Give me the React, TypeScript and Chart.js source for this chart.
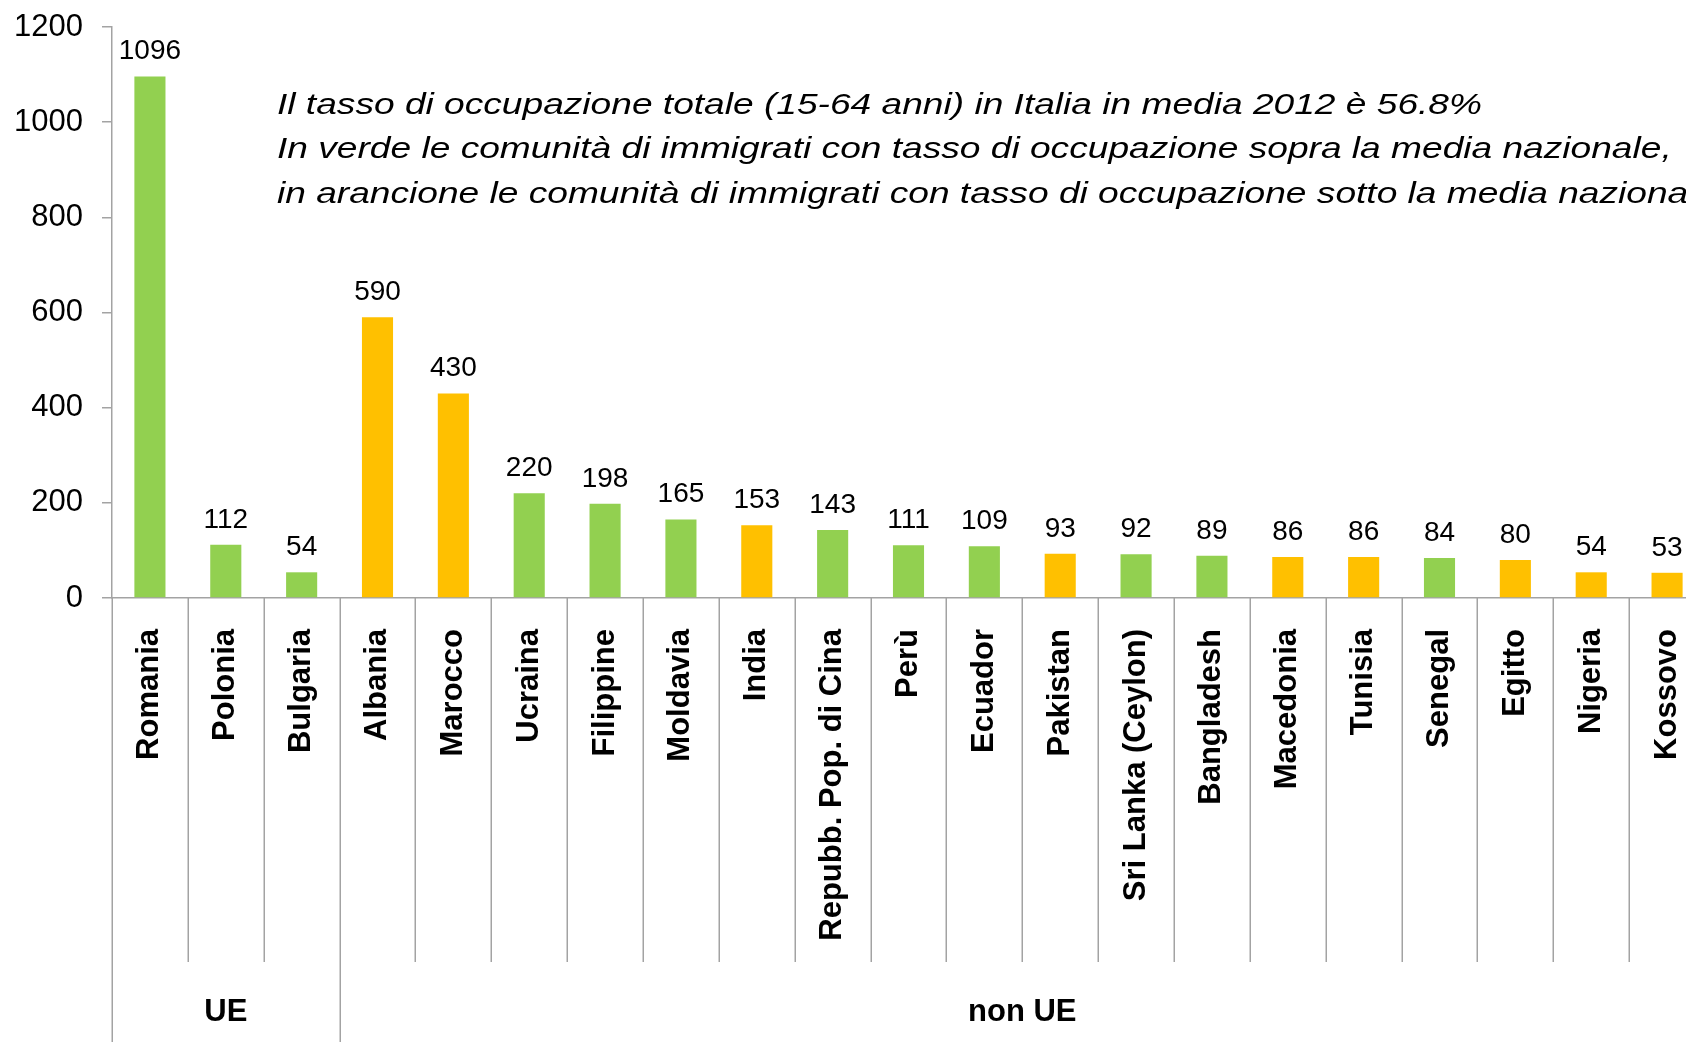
import React, { useEffect, useRef } from "react";
import { Chart, registerables } from "chart.js";

Chart.register(...registerables);

const categories = [
  "Romania",
  "Polonia",
  "Bulgaria",
  "Albania",
  "Marocco",
  "Ucraina",
  "Filippine",
  "Moldavia",
  "India",
  "Repubb. Pop. di Cina",
  "Perù",
  "Ecuador",
  "Pakistan",
  "Sri Lanka (Ceylon)",
  "Bangladesh",
  "Macedonia",
  "Tunisia",
  "Senegal",
  "Egitto",
  "Nigeria",
  "Kossovo",
];

const values = [1096, 112, 54, 590, 430, 220, 198, 165, 153, 143, 111, 109, 93, 92, 89, 86, 86, 84, 80, 54, 53];

// true = tasso di occupazione sopra la media nazionale (verde), false = sotto (arancione)
const aboveAverage = [
  true, true, true, false, false, true, true, true, false, true, true, true,
  false, true, true, false, false, true, false, false, false,
];

const groups = ["UE", "non UE"];
const groupSizes = [3, 18];

const yMin = 0;
const yMax = 1200;
const yStep = 200;

const noteLines = [
  "Il tasso di occupazione totale (15-64 anni) in Italia in media 2012 è 56.8%",
  "In verde le comunità di immigrati con tasso di occupazione sopra la media nazionale,",
  "in arancione le comunità di immigrati con tasso di occupazione sotto la media nazionale",
];

const GREEN = "#92D050";
const ORANGE = "#FFC000";
const GRAY = "#A3A3A3";
const FONT = "'Liberation Sans', Arial, sans-serif";

const CANVAS_W = 1720;
const CANVAS_H = 1042;

export default function App() {
  const ref = useRef<HTMLCanvasElement | null>(null);

  useEffect(() => {
    const canvas = ref.current;
    if (!canvas) return;

    const overlay = {
      id: "overlay",
      afterDatasetsDraw(chart: any) {
        const ctx = chart.ctx;
        const meta = chart.getDatasetMeta(0);
        ctx.save();
        ctx.fillStyle = "#000";
        ctx.font = `28px ${FONT}`;
        ctx.textAlign = "center";
        ctx.textBaseline = "alphabetic";
        meta.data.forEach((bar: any, i: number) => {
          ctx.fillText(String(values[i]), bar.x, bar.y - 17);
        });
        ctx.restore();
      },
      afterDraw(chart: any) {
        const ctx = chart.ctx;
        const xs = chart.scales.x;
        const area = chart.chartArea;
        const n = categories.length;
        const w = xs.getPixelForValue(1) - xs.getPixelForValue(0);
        const x0 = xs.getPixelForValue(0) - w / 2;

        // group boundaries
        const starts = new Set<number>();
        let acc = 0;
        starts.add(0);
        groupSizes.forEach((s) => {
          acc += s;
          starts.add(acc);
        });

        ctx.save();
        ctx.strokeStyle = GRAY;
        ctx.lineWidth = 1.5;
        for (let i = 0; i <= n; i++) {
          const x = Math.round(x0 + i * w) + 0.25;
          const y2 = starts.has(i) ? chart.height : area.bottom + 364;
          ctx.beginPath();
          ctx.moveTo(x, area.bottom);
          ctx.lineTo(x, y2);
          ctx.stroke();
        }

        // group labels
        ctx.fillStyle = "#000";
        ctx.font = `bold 31px ${FONT}`;
        ctx.textAlign = "center";
        ctx.textBaseline = "alphabetic";
        let start = 0;
        groups.forEach((g, gi) => {
          const cx = x0 + (start + groupSizes[gi] / 2) * w;
          ctx.fillText(g, cx, 1021);
          start += groupSizes[gi];
        });

        // note text (horizontally stretched like the original)
        ctx.font = `italic 30px ${FONT}`;
        ctx.textAlign = "left";
        const sx = 1205 / ctx.measureText(noteLines[0]).width;
        ctx.translate(277, 0);
        ctx.scale(sx, 1);
        const baselines = [113.5, 158, 202.5];
        noteLines.forEach((line, i) => {
          ctx.fillText(line, 0, baselines[i]);
        });
        ctx.restore();
      },
    };

    const zeroPad = (scale: any) => {
      scale.paddingTop = 0;
      scale.paddingBottom = 0;
      scale.paddingLeft = 0;
      scale.paddingRight = 0;
    };

    const chart = new Chart(canvas, {
      type: "bar",
      data: {
        labels: categories,
        datasets: [
          {
            data: values,
            backgroundColor: aboveAverage.map((a) => (a ? GREEN : ORANGE)),
            borderWidth: 0,
            barPercentage: 0.41,
            categoryPercentage: 1,
          },
        ],
      },
      options: {
        responsive: false,
        animation: false,
        devicePixelRatio: 1,
        layout: { padding: { top: 27, right: 15, left: 0, bottom: 0 } },
        plugins: {
          legend: { display: false },
          tooltip: { enabled: false },
          title: { display: false },
        },
        scales: {
          x: {
            type: "category",
            offset: true,
            grid: {
              display: true,
              drawOnChartArea: false,
              drawTicks: false,
              offset: true,
              color: GRAY,
            },
            border: { display: true, color: GRAY, width: 1.5 },
            ticks: {
              autoSkip: false,
              minRotation: 90,
              maxRotation: 90,
              padding: 31,
              color: "#000",
              font: { family: FONT, size: 31, weight: "bold" },
            },
            afterFit: (scale: any) => {
              scale.height = 444;
              zeroPad(scale);
            },
          },
          y: {
            min: yMin,
            max: yMax,
            grid: {
              drawOnChartArea: false,
              drawTicks: true,
              tickLength: 10,
              color: GRAY,
              lineWidth: 1.5,
            },
            border: { display: true, color: GRAY, width: 1.5 },
            ticks: {
              stepSize: yStep,
              padding: 19,
              color: "#000",
              font: { family: FONT, size: 31 },
              callback: (v: any) => String(v),
            },
            afterFit: (scale: any) => {
              scale.width = 112;
              zeroPad(scale);
            },
          },
        },
      } as any,
      plugins: [overlay],
    });

    return () => {
      chart.destroy();
    };
  }, []);

  return (
    <div
      style={{
        position: "fixed",
        left: 0,
        top: 0,
        width: "100vw",
        height: "100vh",
        overflow: "hidden",
        background: "#fff",
      }}
    >
      <canvas
        ref={ref}
        width={CANVAS_W}
        height={CANVAS_H}
        style={{ display: "block", width: CANVAS_W + "px", height: CANVAS_H + "px" }}
      />
    </div>
  );
}
